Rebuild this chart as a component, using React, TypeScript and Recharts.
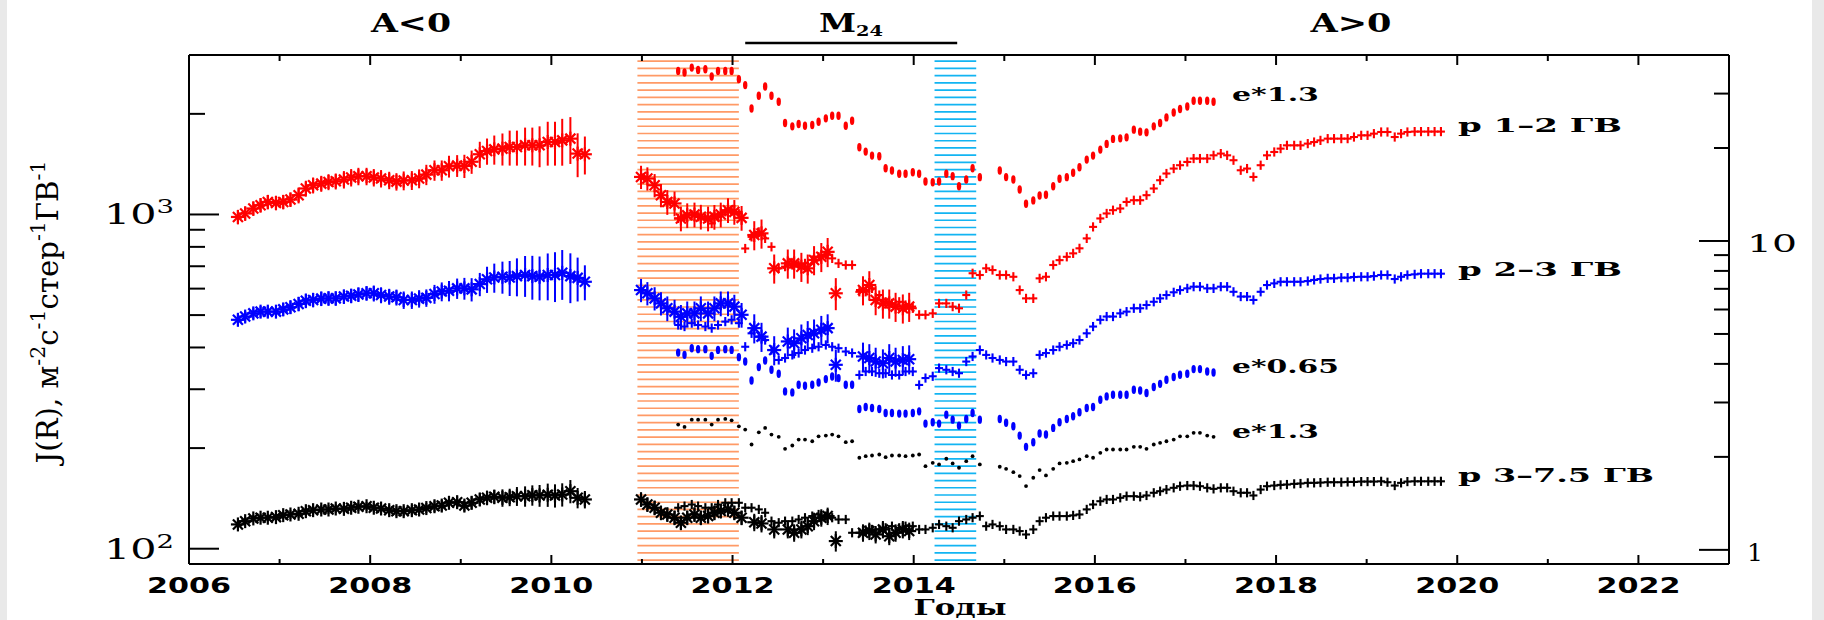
import React from 'react';
import { ScatterChart, Scatter, XAxis, YAxis, ErrorBar, ReferenceArea } from 'recharts';

// ---------- time axes (years) ----------
const pamYears = [2006.54, 2006.62, 2006.71, 2006.79, 2006.87, 2006.96, 2007.04, 2007.12, 2007.21, 2007.29, 2007.37, 2007.46, 2007.54, 2007.62, 2007.71, 2007.79, 2007.87, 2007.96, 2008.04, 2008.12, 2008.21, 2008.29, 2008.37, 2008.46, 2008.54, 2008.62, 2008.71, 2008.79, 2008.87, 2008.96, 2009.04, 2009.12, 2009.21, 2009.29, 2009.37, 2009.46, 2009.54, 2009.62, 2009.71, 2009.79, 2009.87, 2009.96, 2010.04, 2010.12, 2010.21, 2010.29, 2010.37];

const pam2Years = [2010.99, 2011.06, 2011.14, 2011.21, 2011.28, 2011.36, 2011.43, 2011.50, 2011.58, 2011.65, 2011.73, 2011.80, 2011.87, 2011.95, 2012.02, 2012.10, 2012.24, 2012.32, 2012.46, 2012.61, 2012.68, 2012.76, 2012.83, 2012.90, 2012.98, 2013.05, 2013.14, 2013.44, 2013.51, 2013.58, 2013.66, 2013.73, 2013.80, 2013.88, 2013.95];

const amsYears = [2011.40, 2011.47, 2011.55, 2011.62, 2011.70, 2011.77, 2011.84, 2011.92, 2011.99,
  2012.07, 2012.14, 2012.21, 2012.29, 2012.36, 2012.43, 2012.51, 2012.58, 2012.66, 2012.73, 2012.80, 2012.88, 2012.95,
  2013.03, 2013.10, 2013.17, 2013.25, 2013.32, 2013.40, 2013.47, 2013.54, 2013.62, 2013.69, 2013.76, 2013.84, 2013.91, 2013.99,
  2014.06, 2014.13, 2014.21, 2014.28, 2014.36, 2014.43, 2014.50, 2014.58, 2014.65, 2014.73, 2014.80, 2014.87, 2014.95,
  2015.02, 2015.10, 2015.17, 2015.24, 2015.32, 2015.39, 2015.46, 2015.54, 2015.61, 2015.69, 2015.76, 2015.83, 2015.91, 2015.98,
  2016.06, 2016.13, 2016.20, 2016.28, 2016.35, 2016.43, 2016.50, 2016.57, 2016.65, 2016.72, 2016.79, 2016.87, 2016.94,
  2017.02, 2017.09, 2017.16, 2017.24, 2017.31, 2017.39, 2017.46, 2017.53, 2017.61, 2017.68, 2017.75, 2017.83, 2017.90, 2017.98,
  2018.05, 2018.12, 2018.20, 2018.27, 2018.35, 2018.42, 2018.49, 2018.57, 2018.64, 2018.72, 2018.79, 2018.86, 2018.94,
  2019.01, 2019.08, 2019.16, 2019.23, 2019.31, 2019.38, 2019.45, 2019.53, 2019.60, 2019.68, 2019.75, 2019.82];

const elecYears = [2011.40, 2011.47, 2011.55, 2011.62, 2011.70, 2011.77, 2011.84, 2011.92, 2011.99,
  2012.07, 2012.14, 2012.21, 2012.29, 2012.36, 2012.43, 2012.51, 2012.58, 2012.66, 2012.73, 2012.80, 2012.88, 2012.95,
  2013.03, 2013.10, 2013.17, 2013.25, 2013.32, 2013.40, 2013.47, 2013.54, 2013.62, 2013.69, 2013.76, 2013.84, 2013.91, 2013.99,
  2014.06, 2014.13, 2014.21, 2014.28, 2014.36, 2014.43, 2014.50, 2014.58, 2014.65, 2014.73, 2014.95,
  2015.02, 2015.10, 2015.17, 2015.24, 2015.32, 2015.39, 2015.46, 2015.54, 2015.61, 2015.69, 2015.76, 2015.83, 2015.91, 2015.98,
  2016.06, 2016.13, 2016.20, 2016.28, 2016.35, 2016.43, 2016.50, 2016.57, 2016.65, 2016.72, 2016.79, 2016.87, 2016.94,
  2017.02, 2017.09, 2017.16, 2017.24, 2017.31];

// ---------- proton fluxes, PAMELA 2006-2010 (left axis) ----------
const pamRed = [983, 1007, 1042, 1066, 1090, 1083, 1090, 1108, 1142, 1196, 1223, 1237, 1251, 1257, 1272, 1290, 1301, 1301, 1290, 1281, 1266, 1254, 1263, 1266, 1281, 1316, 1356, 1356, 1394, 1400, 1397, 1438, 1514, 1548, 1566, 1574, 1591, 1591, 1610, 1610, 1610, 1647, 1647, 1666, 1686, 1521, 1514];
const pamBlue = [484, 495, 506, 512, 512, 512, 520, 528, 540, 552, 555, 560, 561, 561, 568, 571, 576, 581, 581, 574, 568, 565, 555, 555, 560, 563, 578, 588, 591, 601, 601, 597, 619, 640, 648, 651, 648, 654, 659, 654, 651, 659, 659, 669, 654, 646, 629];
const pamBlack = [118.2, 120.9, 123.2, 123.8, 123.8, 124.3, 126.0, 126.6, 127.2, 129.5, 130.4, 131.0, 131.0, 131.9, 131.6, 132.6, 133.5, 134.0, 132.6, 131.9, 130.4, 129.5, 129.5, 130.4, 131.0, 132.3, 134.0, 134.6, 137.2, 137.8, 134.6, 137.2, 140.4, 142.0, 143.0, 142.0, 142.6, 143.6, 143.6, 144.6, 144.3, 145.0, 144.3, 145.3, 148.6, 142.0, 140.4];
// error bars, percent of value
const pamRedErr = [5, 5, 5, 5, 5, 5, 5, 5, 5.5, 5.5, 5.5, 5.5, 5.5, 5.5, 6, 6, 6, 6, 6, 6, 6, 6, 6.5, 6.5, 6.5, 7, 7, 7, 7.5, 7.5, 8, 8, 9, 9, 10, 11, 12, 12, 13, 13, 14, 15, 15, 16, 16, 15, 13];
const pamBlueErr = [4, 4, 4, 4, 4, 4, 4.5, 4.5, 5, 5, 5, 5, 5, 5, 5, 5, 5, 5, 5.5, 5.5, 5.5, 5.5, 6, 6, 6, 6, 6.5, 6.5, 7, 7, 7.5, 8, 8, 9, 10, 11, 12, 13, 14, 15, 15, 16, 17, 17, 17, 15, 12];
const pamBlackErr = [2.5, 2.5, 2.5, 2.5, 2.5, 2.5, 2.5, 3, 3, 3, 3, 3, 3, 3, 3, 3, 3, 3, 3, 3.5, 3.5, 3.5, 3.5, 3.5, 3.5, 3.5, 4, 4, 4, 4, 4, 4.5, 4.5, 5, 5, 6, 6, 6.5, 7, 7, 7.5, 8, 8, 8, 8, 7, 6];

// ---------- proton fluxes, PAMELA 2011-2014 (left axis) ----------
const pam2Red = [1295, 1281, 1223, 1142, 1090, 1079, 973, 995, 1000, 985, 973, 984, 1000, 1030, 1018, 977, 868, 878, 690, 714, 714, 698, 690, 731, 747, 773, 581, 594, 615, 555, 542, 542, 530, 524, 530];
const pam2Blue = [594, 581, 561, 542, 524, 512, 494, 506, 506, 524, 506, 524, 542, 542, 530, 501, 457, 431, 393, 417, 412, 426, 436, 441, 452, 457, 355, 376, 372, 363, 359, 372, 363, 367, 369];
const pam2Black = [140.4, 135.6, 132.6, 128.1, 126.6, 123.8, 119.6, 123.8, 126.6, 123.8, 125.2, 128.1, 129.6, 131.1, 128.1, 123.8, 120, 119, 114.2, 114.2, 111.6, 114.2, 116.8, 120.9, 123.8, 125.2, 105.4, 111.6, 112.9, 110.3, 114.2, 109, 111.6, 114.2, 112.9];
const pam2RedErr = [8, 8, 8, 8, 8.5, 8.5, 8.5, 8.5, 8.5, 8.5, 8.5, 8.5, 8.5, 8.5, 8.5, 8.5, 10, 10, 10, 10, 10, 10, 10, 10, 10, 10, 11, 10, 10, 10, 10, 10, 10, 10, 10];
const pam2BlueErr = [8, 8, 8, 8, 8.5, 8.5, 8.5, 8.5, 8.5, 8.5, 8.5, 8.5, 8.5, 8.5, 8.5, 8.5, 10, 10, 10, 10, 10, 10, 10, 10, 10, 10, 11, 10, 10, 10, 10, 10, 10, 10, 10];
const pam2BlackErr = [5, 5, 5, 5, 5, 5, 5, 5, 5, 5, 5, 5, 5, 5, 5, 5, 6, 6, 6, 6, 6, 6, 6, 6, 6, 6, 7, 6, 6, 6, 6, 6, 6, 6, 6];

// ---------- proton fluxes, AMS-02 2011-2019 (left axis) ----------
const amsRed = [973, 984, 995, 984, 973, 940, 984, 1018, 1030,
  1005, 791, 857, 887, 848, 800, 690, 698, 706, 706, 714, 731, 747,
  756, 739, 714, 706, 706, 587, 587, 601, 574, 548, 542, 548, 536, 524,
  501, 501, 506, 542, 542, 530, 524, 574, 667, 659, 690, 682, 659,
  659, 651, 594, 561, 561, 644, 651, 706, 730, 747, 765, 792, 848, 918,
  973, 1007, 1030, 1042, 1090, 1103, 1103, 1142, 1196, 1266, 1326, 1372, 1404,
  1436, 1470, 1470, 1470, 1503, 1521, 1503, 1453, 1356, 1372, 1295, 1404, 1503, 1538,
  1574, 1610, 1610, 1610, 1629, 1647, 1666, 1686, 1686, 1686, 1686, 1705, 1725,
  1725, 1745, 1765, 1765, 1705, 1745, 1765, 1770, 1770, 1770, 1770, 1770];
const amsBlue = [467, 462, 473, 467, 462, 457, 467, 478, 484,
  473, 402, 441, 431, 421, 393, 367, 372, 380, 385, 393, 398, 402,
  407, 402, 398, 389, 385, 331, 339, 339, 335, 335, 331, 331, 339, 339,
  309, 324, 328, 347, 343, 339, 335, 363, 376, 393, 380, 372, 367,
  363, 363, 343, 331, 335, 380, 385, 393, 402, 407, 412, 421, 441, 462,
  484, 495, 495, 506, 512, 524, 524, 536, 548, 561, 574, 585, 594,
  601, 608, 608, 601, 601, 608, 608, 587, 568, 568, 555, 587, 615, 622,
  629, 629, 629, 629, 632, 637, 641, 644, 644, 647, 647, 650, 651,
  651, 654, 659, 659, 641, 651, 659, 662, 665, 665, 665, 665];
const amsBlack = [132.6, 134.1, 135.6, 134.1, 132.6, 132.6, 135.6, 137.2, 137.2,
  137.2, 132.6, 132.6, 131.1, 128.1, 120.9, 119.6, 120.9, 120.9, 122.3, 123.8, 125.2, 126.6,
  125.2, 123.8, 122.3, 122.3, 111.6, 111.6, 113.7, 114.2, 114.2, 115.5, 116.8, 115.5, 116.8, 116.8,
  114.2, 114.2, 115.5, 118.2, 116.8, 115.5, 120.9, 122.3, 123.8, 125.2, 116.8, 118.2, 116.8,
  114.2, 114.2, 112.9, 110.3, 114.2, 120.9, 123.8, 125.2, 125.2, 125.2, 125.8, 126.6, 131.1, 135.6,
  138.7, 140.4, 140.4, 142.0, 143.6, 143.6, 143.0, 144.3, 147.0, 148.6, 150.3, 152.1, 153.8,
  154.5, 154.5, 153.8, 152.1, 151.0, 152.1, 152.1, 148.6, 147.0, 147.0, 144.3, 150.3, 153.8, 154.5,
  155.2, 155.6, 156.3, 156.7, 157.4, 157.4, 157.7, 158.1, 158.1, 158.1, 158.4, 158.4, 158.8,
  158.8, 158.8, 159.1, 158.1, 154.5, 157.4, 158.8, 159.1, 159.1, 159.1, 159.1, 159.1];

// ---------- electron fluxes, scaled (right axis) ----------
const elecRed = [35.53, 35.09, 36.42, 35.80, 35.98, 34.06, 35.53, 35.53, 35.53,
  33.41, 31.96, 26.85, 29.51, 31.62, 29.51, 28.22, 24.09, 23.50, 23.91, 23.61, 23.73, 24.33,
  24.94, 25.44, 25.44, 23.61, 24.51, 20.10, 19.47, 18.90, 18.80, 17.20, 16.91, 16.50, 16.50, 16.70,
  16.50, 15.58, 15.50, 15.58, 16.50, 16.21, 15.04, 15.81, 17.20, 16.09, 16.91,
  16.10, 15.81, 14.68, 13.20, 13.53, 14.04, 14.11, 15.04, 15.90, 16.09, 16.62, 17.33, 18.34, 18.90,
  19.76, 20.62, 21.40, 21.49, 21.65, 22.93, 22.59, 22.47, 23.50, 24.09, 25.12, 26.07, 26.74,
  27.26, 28.44, 28.44, 28.44, 28.22];
const elecBlue = [4.352, 4.279, 4.497, 4.464, 4.464, 4.247, 4.440, 4.464, 4.440,
  4.206, 4.071, 3.535, 3.905, 4.101, 3.828, 3.715, 3.258, 3.234, 3.423, 3.398, 3.423, 3.483,
  3.572, 3.641, 3.598, 3.423, 3.423, 2.858, 2.901, 2.879, 2.858, 2.775, 2.775, 2.761, 2.761, 2.775,
  2.808, 2.563, 2.588, 2.563, 2.740, 2.640, 2.525, 2.654, 2.775, 2.640, 2.654,
  2.580, 2.512, 2.344, 2.155, 2.231, 2.380, 2.362, 2.482, 2.588, 2.654, 2.706, 2.788, 2.879, 2.901,
  3.062, 3.139, 3.179, 3.179, 3.179, 3.299, 3.282, 3.219, 3.366, 3.447, 3.553, 3.626, 3.689,
  3.715, 3.848, 3.848, 3.780, 3.752];
const elecBlack = [2.544, 2.501, 2.640, 2.640, 2.640, 2.544, 2.640, 2.654, 2.627,
  2.512, 2.451, 2.193, 2.402, 2.482, 2.362, 2.322, 2.124, 2.177, 2.276, 2.276, 2.247, 2.332,
  2.344, 2.362, 2.332, 2.231, 2.247, 1.987, 2.011, 2.021, 2.036, 1.995, 2.021, 2.021, 2.011, 2.021,
  2.036, 1.866, 1.914, 1.890, 1.972, 1.905, 1.844, 1.937, 2.011, 1.890, 1.858,
  1.830, 1.785, 1.733, 1.609, 1.712, 1.812, 1.742, 1.830, 1.905, 1.914, 1.937, 1.962, 2.011, 1.987,
  2.062, 2.113, 2.113, 2.113, 2.113, 2.155, 2.155, 2.124, 2.193, 2.221, 2.247, 2.276, 2.332,
  2.332, 2.392, 2.392, 2.344, 2.322];

// ---------- axes, periods, labels ----------
const xTicks = [2006, 2007, 2008, 2009, 2010, 2011, 2012, 2013, 2014, 2015, 2016, 2017, 2018, 2019, 2020, 2021, 2022];
const xDomain = [2006, 2023];
const leftTicks = [100, 200, 300, 400, 500, 600, 700, 800, 900, 1000, 2000];
const leftDomain = [90, 3000];
const rightTicks = [1, 2, 3, 4, 5, 6, 7, 8, 9, 10, 20, 30];
const rightDomain = [0.9, 40];
const orangePeriod = [2010.95, 2012.07];
const bluePeriod = [2014.23, 2014.69];
const m24Period = [2012.14, 2014.48];
const polarityLabels = ['A<0', 'A>0'];
const seriesLabels = ['e*1.3', 'p 1–2 ГВ', 'p 2–3 ГВ', 'e*0.65', 'e*1.3', 'p 3–7.5 ГВ'];

const W = 1824;
const H = 620;
// plot area: left 189, right 1729, top 55, bottom 564 (axes take 1px each)
const M = { top: 54, right: 94, bottom: 55, left: 188 };
const PLOT_L = 189;
const PLOT_R = 1729;
const SERIF = "'DejaVu Serif', serif";
const SANS = "'DejaVu Sans', sans-serif";
const RED = '#ff0000';
const BLUE = '#0000ff';
const BLACK = '#000000';
const ORANGE = '#ff9a66';
const SKY = '#12b4f2';

const yearToPx = (y: number) => PLOT_L + ((y - xDomain[0]) / (xDomain[1] - xDomain[0])) * (PLOT_R - PLOT_L);

function pts(xs: number[], ys: number[], errPct?: number[]) {
  return xs.map((x, i) => ({ x, y: ys[i], err: errPct ? (ys[i] * errPct[i]) / 100 : 0 }));
}

const asterisk = (color: string) => (p: any) => {
  const { cx, cy } = p;
  if (cx == null || cy == null) return <g />;
  const r = 7;
  const d = 5;
  return (
    <g stroke={color} strokeWidth={2.2}>
      <line x1={cx - r} y1={cy} x2={cx + r} y2={cy} />
      <line x1={cx} y1={cy - r} x2={cx} y2={cy + r} />
      <line x1={cx - d} y1={cy - d} x2={cx + d} y2={cy + d} />
      <line x1={cx - d} y1={cy + d} x2={cx + d} y2={cy - d} />
    </g>
  );
};

const plus = (color: string) => (p: any) => {
  const { cx, cy } = p;
  if (cx == null || cy == null) return <g />;
  return (
    <g stroke={color} strokeWidth={2.1}>
      <line x1={cx - 4} y1={cy} x2={cx + 4} y2={cy} />
      <line x1={cx} y1={cy - 4.6} x2={cx} y2={cy + 4.6} />
    </g>
  );
};

const bar = (color: string) => (p: any) => {
  const { cx, cy } = p;
  if (cx == null || cy == null) return <g />;
  return <ellipse cx={cx} cy={cy} rx={2.2} ry={4.2} fill={color} />;
};

const dot = (color: string) => (p: any) => {
  const { cx, cy } = p;
  if (cx == null || cy == null) return <g />;
  return <circle cx={cx} cy={cy} r={1.9} fill={color} />;
};

const hatch = (color: string) => (p: any) => {
  const { x, y, width, height } = p;
  const lines: any[] = [];
  for (let yy = y + 6.2; yy < y + height - 1; yy += 7.23) {
    lines.push(<line key={yy} x1={x} x2={x + width} y1={yy} y2={yy} stroke={color} strokeWidth={1.7} />);
  }
  return <g>{lines}</g>;
};

const BottomTick = (p: any) => {
  const { x, y, payload } = p;
  const v = payload.value;
  const major = v % 2 === 0;
  return (
    <g>
      <line x1={x} x2={x} y1={y} y2={y - (major ? 9 : 5)} stroke={BLACK} strokeWidth={2} />
      {major && (
        <text x={x} y={y + 29} textAnchor="middle" fontFamily={SANS} fontWeight="bold" fontSize={22}
          textLength={84} lengthAdjust="spacingAndGlyphs" fill={BLACK}>{v}</text>
      )}
    </g>
  );
};

const TopTick = (p: any) => {
  const { x, y, payload } = p;
  const major = payload.value % 2 === 0;
  return <line x1={x} x2={x} y1={y} y2={y + (major ? 10 : 6)} stroke={BLACK} strokeWidth={2} />;
};

const LeftTick = (p: any) => {
  const { x, y, payload } = p;
  const v = payload.value;
  const major = v === 100 || v === 1000;
  return (
    <g>
      <line x1={x} x2={x + (major ? 30 : 16)} y1={y} y2={y} stroke={BLACK} strokeWidth={2} />
      {major && (
        <text x={x - 15} y={y + 10} textAnchor="end" fontFamily={SERIF} fontSize={27} fill={BLACK}
          textLength={70} lengthAdjust="spacingAndGlyphs">
          10<tspan dy={-11} fontSize={18}>{v === 100 ? '2' : '3'}</tspan>
        </text>
      )}
    </g>
  );
};

const RightTick = (p: any) => {
  const { x, y, payload } = p;
  const v = payload.value;
  const major = v === 1 || v === 10;
  return (
    <g>
      <line x1={x} x2={x - (major ? 30 : 15)} y1={y} y2={y} stroke={BLACK} strokeWidth={2} />
      {major && (
        <text x={x + 18} y={y + 11} textAnchor="start" fontFamily={SERIF} fontSize={25} fill={BLACK}
          textLength={v === 10 ? 50 : 16} lengthAdjust="spacingAndGlyphs">{v}</text>
      )}
    </g>
  );
};

const labelPos = [
  { x: 1232, y: 101, w: 87 },
  { x: 1458, y: 132, w: 164 },
  { x: 1458, y: 276, w: 164 },
  { x: 1232, y: 373, w: 107 },
  { x: 1232, y: 438, w: 87 },
  { x: 1458, y: 482, w: 196 },
];

export default function App() {
  const axisLine = { stroke: BLACK, strokeWidth: 2 };
  return (
    <div style={{ position: 'fixed', left: 0, top: 0, width: W, height: H, background: '#e9e9e9' }}>
      <div style={{ position: 'absolute', left: 7, top: 0, width: 1805, height: H, background: '#ffffff' }} />
      <div style={{ position: 'absolute', left: 0, top: 0 }}>
        <ScatterChart width={W} height={H} margin={M}>
          <XAxis xAxisId={0} dataKey="x" type="number" domain={xDomain} ticks={xTicks} interval={0}
            allowDataOverflow height={1} tickSize={0} tickMargin={0} tickLine={false} axisLine={axisLine}
            tick={<BottomTick />} />
          <XAxis xAxisId="top" orientation="top" dataKey="x" type="number" domain={xDomain} ticks={xTicks}
            interval={0} allowDataOverflow height={1} tickSize={0} tickMargin={0} tickLine={false}
            axisLine={axisLine} tick={<TopTick />} />
          <YAxis yAxisId="left" dataKey="y" type="number" scale="log" domain={leftDomain} ticks={leftTicks}
            interval={0} allowDataOverflow width={1} tickSize={0} tickMargin={0} tickLine={false}
            axisLine={axisLine} tick={<LeftTick />} />
          <YAxis yAxisId="right" orientation="right" dataKey="y" type="number" scale="log" domain={rightDomain}
            ticks={rightTicks} interval={0} allowDataOverflow width={1} tickSize={0} tickMargin={0}
            tickLine={false} axisLine={axisLine} tick={<RightTick />} />

          <ReferenceArea xAxisId={0} yAxisId="left" x1={orangePeriod[0]} x2={orangePeriod[1]}
            shape={hatch(ORANGE)} ifOverflow="visible" />
          <ReferenceArea xAxisId={0} yAxisId="left" x1={bluePeriod[0]} x2={bluePeriod[1]}
            shape={hatch(SKY)} ifOverflow="visible" />

          {/* electrons (right axis) */}
          <Scatter yAxisId="right" data={pts(elecYears, elecRed)} shape={bar(RED)} isAnimationActive={false} />
          <Scatter yAxisId="right" data={pts(elecYears, elecBlue)} shape={bar(BLUE)} isAnimationActive={false} />
          <Scatter yAxisId="right" data={pts(elecYears, elecBlack)} shape={dot(BLACK)} isAnimationActive={false} />

          {/* AMS-02 protons */}
          <Scatter yAxisId="left" data={pts(amsYears, amsRed)} shape={plus(RED)} isAnimationActive={false} />
          <Scatter yAxisId="left" data={pts(amsYears, amsBlue)} shape={plus(BLUE)} isAnimationActive={false} />
          <Scatter yAxisId="left" data={pts(amsYears, amsBlack)} shape={plus(BLACK)} isAnimationActive={false} />

          {/* PAMELA protons */}
          <Scatter yAxisId="left" data={pts(pamYears, pamRed, pamRedErr)} shape={asterisk(RED)} isAnimationActive={false}>
            <ErrorBar dataKey="err" direction="y" width={0} stroke={RED} strokeWidth={2} isAnimationActive={false} />
          </Scatter>
          <Scatter yAxisId="left" data={pts(pamYears, pamBlue, pamBlueErr)} shape={asterisk(BLUE)} isAnimationActive={false}>
            <ErrorBar dataKey="err" direction="y" width={0} stroke={BLUE} strokeWidth={2} isAnimationActive={false} />
          </Scatter>
          <Scatter yAxisId="left" data={pts(pamYears, pamBlack, pamBlackErr)} shape={asterisk(BLACK)} isAnimationActive={false}>
            <ErrorBar dataKey="err" direction="y" width={0} stroke={BLACK} strokeWidth={2} isAnimationActive={false} />
          </Scatter>
          <Scatter yAxisId="left" data={pts(pam2Years, pam2Red, pam2RedErr)} shape={asterisk(RED)} isAnimationActive={false}>
            <ErrorBar dataKey="err" direction="y" width={0} stroke={RED} strokeWidth={2} isAnimationActive={false} />
          </Scatter>
          <Scatter yAxisId="left" data={pts(pam2Years, pam2Blue, pam2BlueErr)} shape={asterisk(BLUE)} isAnimationActive={false}>
            <ErrorBar dataKey="err" direction="y" width={0} stroke={BLUE} strokeWidth={2} isAnimationActive={false} />
          </Scatter>
          <Scatter yAxisId="left" data={pts(pam2Years, pam2Black, pam2BlackErr)} shape={asterisk(BLACK)} isAnimationActive={false}>
            <ErrorBar dataKey="err" direction="y" width={0} stroke={BLACK} strokeWidth={2} isAnimationActive={false} />
          </Scatter>
        </ScatterChart>
      </div>
      <svg width={W} height={H} style={{ position: 'absolute', left: 0, top: 0, pointerEvents: 'none' }}>
        <text x={411} y={32} textAnchor="middle" fontFamily={SERIF} fontWeight="bold" fontSize={26}
          textLength={80} lengthAdjust="spacingAndGlyphs">{polarityLabels[0]}</text>
        <text x={1351} y={32} textAnchor="middle" fontFamily={SERIF} fontWeight="bold" fontSize={26}
          textLength={81} lengthAdjust="spacingAndGlyphs">{polarityLabels[1]}</text>
        <text x={819} y={32} fontFamily={SERIF} fontWeight="bold" fontSize={26} textLength={64}
          lengthAdjust="spacingAndGlyphs">M<tspan dy={4} fontSize={15}>24</tspan></text>
        <line x1={yearToPx(m24Period[0])} x2={yearToPx(m24Period[1])} y1={43} y2={43} stroke={BLACK} strokeWidth={2.5} />
        <text x={960} y={615} textAnchor="middle" fontFamily={SERIF} fontWeight="bold" fontSize={23}
          textLength={93} lengthAdjust="spacingAndGlyphs">Годы</text>
        <text transform="rotate(-90)" x={-312} y={58} textAnchor="middle" fontFamily={SERIF} fontSize={30}
          textLength={303} lengthAdjust="spacingAndGlyphs">
          J(R), м<tspan dy={-13} fontSize={21}>-2</tspan><tspan dy={13}>с</tspan><tspan dy={-13} fontSize={21}>-1</tspan><tspan dy={13}>стер</tspan><tspan dy={-13} fontSize={21}>-1</tspan><tspan dy={13}>ГВ</tspan><tspan dy={-13} fontSize={21}>-1</tspan>
        </text>
        {seriesLabels.map((s, i) => (
          <text key={i} x={labelPos[i].x} y={labelPos[i].y} fontFamily={SERIF} fontWeight="bold" fontSize={18}
            textLength={labelPos[i].w} lengthAdjust="spacingAndGlyphs">{s}</text>
        ))}
      </svg>
    </div>
  );
}
